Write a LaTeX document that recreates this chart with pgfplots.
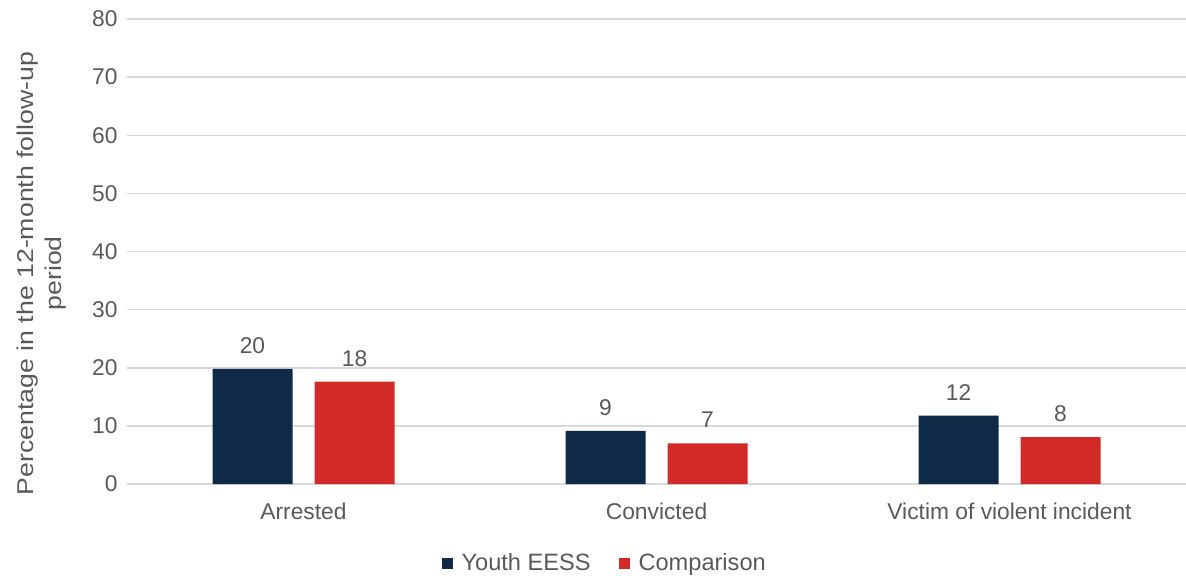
\documentclass[border=0pt]{standalone}
\usepackage{pgfplots}
\pgfplotsset{compat=1.18}
\usepackage{fontspec}
\setmainfont{Liberation Sans}
\definecolor{navy}{HTML}{0E2A47}
\definecolor{cred}{HTML}{D22B27}
\definecolor{txt}{HTML}{595959}
\definecolor{gridc}{HTML}{D9D9D9}
\begin{document}
\begin{tikzpicture}
\begin{axis}[
  scale only axis, width=529.5pt, height=232.5pt,
  ybar=11pt, bar width=40pt,
  xmin=-0.5, xmax=2.5, ymin=0, ymax=80,
  xtick={0,1,2}, xticklabels={Arrested,Convicted,Victim of violent incident},
  ytick={0,10,...,80},
  ymajorgrids, grid style={gridc, line width=0.75pt},
  axis line style={draw=none},
  major tick length=0pt,
  font=\fontsize{11.4}{13.7}\selectfont,
  /pgf/number format/assume math mode=true,
  yticklabel style={inner sep=0pt, anchor=east, xshift=-4.5pt, text=txt},
  xticklabel style={inner sep=0pt, anchor=center, yshift=-13.5pt, text=txt},
  ylabel={\scalebox{1.17}[1]{Percentage in the 12-month follow-up}\\\scalebox{1.17}[1]{period}},
  ylabel style={align=center, at={(axis description cs:-0.0805,0.453)}, anchor=center, text=txt,
    font=\fontsize{11.4}{14}\selectfont},
  point meta=explicit symbolic,
  nodes near coords,
  nodes near coords style={text=txt, inner sep=0pt, anchor=south, yshift=7.5pt},
  legend style={at={(0.452,-0.17)}, anchor=center, legend columns=2, draw=none, fill=none,
    /tikz/every even column/.append style={column sep=12pt}, text=txt,
    font=\fontsize{11.8}{13.7}\selectfont},
  legend image code/.code={\fill[#1] (0pt,-2.75pt) rectangle (5.5pt,2.75pt); \path (8pt,0pt);},
]
\addplot[fill=navy, draw=none] coordinates {(0,19.8)[20] (1,9.15)[9] (2,11.75)[12]};
\addlegendentry{Youth EESS}
\addplot[fill=cred, draw=none] coordinates {(0,17.6)[18] (1,7.0)[7] (2,8.05)[8]};
\addlegendentry{Comparison}
\end{axis}
\pgfresetboundingbox
\path (-63.5pt,-45.5pt) rectangle (529.5pt,242pt);
\end{tikzpicture}
\end{document}
